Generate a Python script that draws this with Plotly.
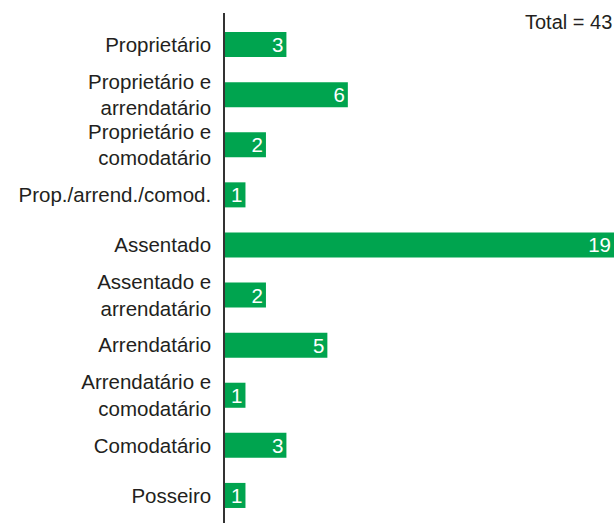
import plotly.graph_objects as go

categories = [
    "Proprietário",
    "Proprietário e<br>arrendatário",
    "Proprietário e<br>comodatário",
    "Prop./arrend./comod.",
    "Assentado",
    "Assentado e<br>arrendatário",
    "Arrendatário",
    "Arrendatário e<br>comodatário",
    "Comodatário",
    "Posseiro",
]
values = [3, 6, 2, 1, 19, 2, 5, 1, 3, 1]
total_label = "Total = 43"

green = "#00A44F"
text_color = "#231F20"
font_family = "Liberation Sans, Arial, Helvetica, sans-serif"

fig = go.Figure(
    go.Bar(
        x=values,
        y=categories,
        orientation="h",
        marker=dict(color=green, line=dict(width=0)),
        text=[str(v) for v in values],
        textposition="inside",
        insidetextanchor="end",
        textangle=0,
        constraintext="none",
        insidetextfont=dict(color="white", size=20.5, family=font_family),
        width=0.5,
        hoverinfo="skip",
    )
)

fig.update_layout(
    width=615,
    height=523,
    margin=dict(l=225, r=1, t=13, b=0),
    paper_bgcolor="white",
    plot_bgcolor="white",
    showlegend=False,
    font=dict(family=font_family, size=20, color=text_color),
    xaxis=dict(
        range=[0, 19],
        visible=False,
        showgrid=False,
        zeroline=False,
        fixedrange=True,
    ),
    yaxis=dict(
        type="category",
        range=[9.55, -0.63],
        showgrid=False,
        zeroline=False,
        showline=True,
        linecolor="#333333",
        linewidth=1.5,
        ticks="",
        ticklabelstandoff=8,
        tickfont=dict(size=20.5, color=text_color, family=font_family),
    ),
    annotations=[
        dict(
            text=total_label,
            xref="paper",
            yref="paper",
            x=1.0,
            y=1.0,
            yshift=4,
            xanchor="right",
            yanchor="top",
            showarrow=False,
            font=dict(size=20, color=text_color, family=font_family),
        )
    ],
    bargap=0.5,
)

fig.write_html("out.html")
